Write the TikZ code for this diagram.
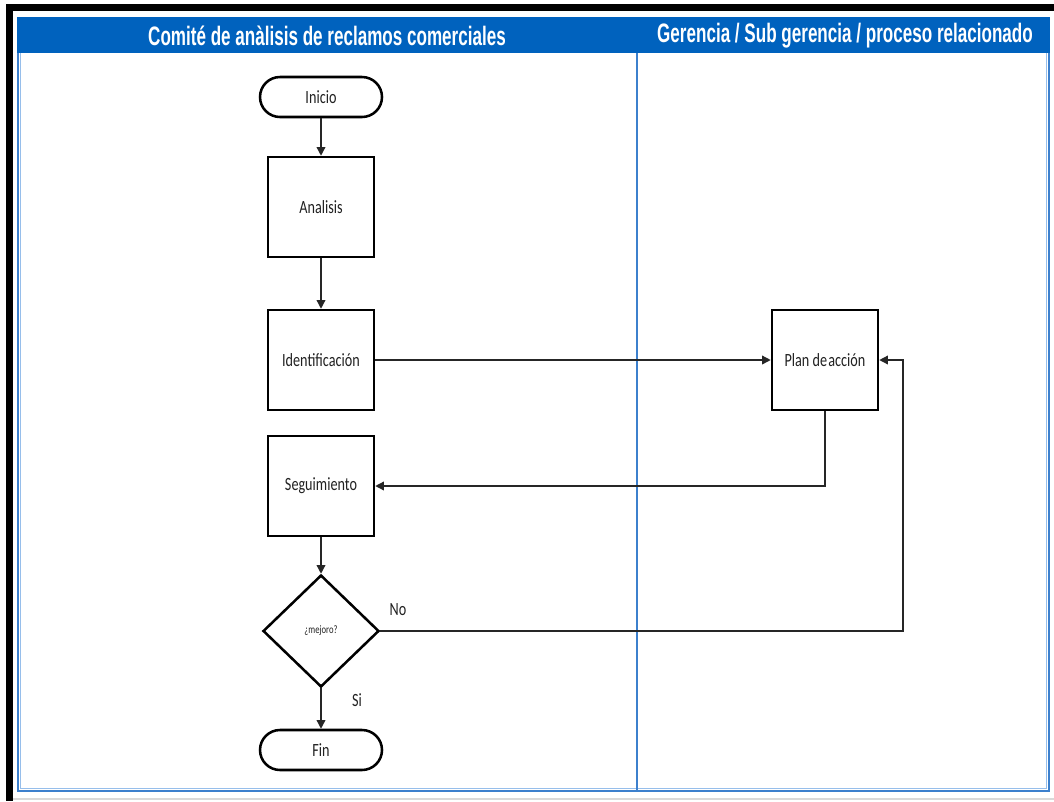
\documentclass[tikz,border=0pt]{standalone}
\usepackage{fontspec}
\newfontfamily\boxfont{Carlito}[FakeStretch=0.76]
\newfontfamily\hdrfont{Liberation Sans}[FakeStretch=0.64]
\usetikzlibrary{shapes.geometric,arrows.meta}
\definecolor{lanehead}{RGB}{0,98,190}
\definecolor{laneline}{RGB}{60,128,205}
\definecolor{lanelight}{RGB}{150,190,235}
\definecolor{inkgray}{RGB}{34,34,34}
\begin{document}
\begin{tikzpicture}[x=0.75pt,y=-0.75pt,
  shapeline/.style={draw=black,line width=1.9pt,fill=white,text=inkgray,font=\boxfont\fontsize{14pt}{15pt}\selectfont,inner sep=0pt},
  terminal/.style={shapeline,rounded corners=15pt,minimum width=91.5pt,minimum height=30pt},
  procbox/.style={shapeline,minimum width=79.5pt,minimum height=75pt},
  decision/.style={shapeline,diamond,minimum width=87pt,minimum height=84pt,font=\boxfont\fontsize{8.5pt}{10pt}\selectfont},
  conn/.style={draw=black!85,line width=1pt,-{Triangle[length=6.5pt,width=6.5pt]}},
  connlabel/.style={text=inkgray,font=\boxfont\fontsize{14pt}{15pt}\selectfont,inner sep=0pt},
  headtext/.style={text=white,font=\hdrfont\bfseries\fontsize{20pt}{22pt}\selectfont,inner sep=0pt}
]
\useasboundingbox (0,0) rectangle (1054,801);
\fill[white] (0,0) rectangle (1054,801);

% outer black frame (top and left)
\fill[black] (6,4) rectangle (1054,11);
\fill[black] (6,4) rectangle (13,801);
\draw[black!15,line width=1pt] (13,799) -- (1054,799);

% swimlane frame
\fill[lanehead] (17,17) rectangle (1050,53);
\draw[laneline,line width=2pt] (18,53) -- (18,791) -- (1049,791) -- (1049,53);
\draw[lanelight,line width=0.8pt] (20.5,53) -- (20.5,788.5) -- (1046.5,788.5) -- (1046.5,53);
\draw[laneline,line width=0.8pt] (637,53) -- (637,790);

\node[headtext] (h1) at (327,36) {Comité de anàlisis de reclamos comerciales};
\node[headtext] (h2) at (845,36) {Gerencia / Sub gerencia / proceso relacionado};

% flow nodes
\node[terminal] (inicio) at (321,97) {Inicio};
\node[procbox] (analisis) at (321,207) {Analisis};
\node[procbox] (ident) at (321,360) {Identificación};
\node[procbox] (seg) at (321,486) {Seguimiento};
\node[decision] (dec) at (321,631) {¿mejoro?};
\node[terminal] (fin) at (321,750) {Fin};
\node[procbox] (plan) at (825,360) {Plan de\hspace{1pt}acción};
\coordinate (loop) at (903,631);

% connectors
\draw[conn] (inicio) -- (analisis);
\draw[conn] (analisis) -- (ident);
\draw[conn] (ident) -- (plan);
\draw[conn] (plan.south) |- (seg.east);
\draw[conn] (seg) -- (dec);
\draw[conn] (dec.east) -- (dec.east -| loop) |- (plan.east);
\draw[conn] (dec) -- (fin);

\node[connlabel] (no) at (398,610) {No};
\node[connlabel] (si) at (357,700) {Si};
\end{tikzpicture}
\end{document}
